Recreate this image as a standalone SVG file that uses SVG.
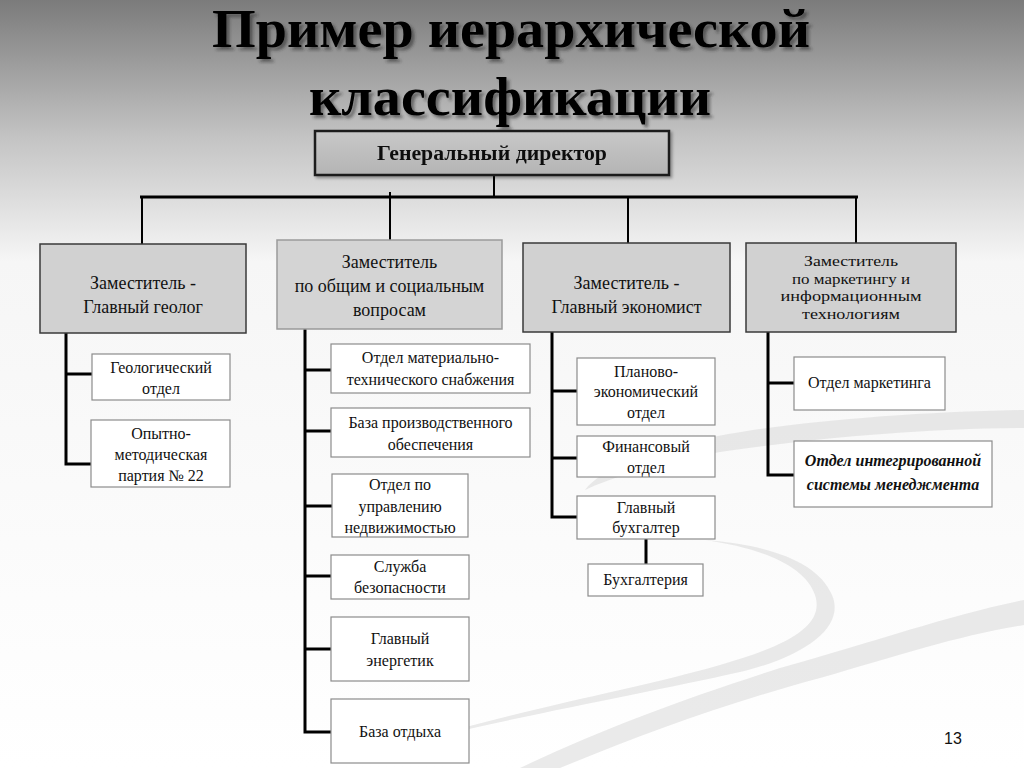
<svg xmlns="http://www.w3.org/2000/svg" width="1024" height="768" viewBox="0 0 1024 768">
<defs>
<linearGradient id="bg" x1="0" y1="0" x2="0" y2="768" gradientUnits="userSpaceOnUse">
<stop offset="0" stop-color="#7b7b7b"/>
<stop offset="0.18" stop-color="#c4c4c4"/>
<stop offset="0.34" stop-color="#f6f6f6"/>
<stop offset="1" stop-color="#ffffff"/>
</linearGradient>
<linearGradient id="dir" x1="0" y1="0" x2="0" y2="1">
<stop offset="0" stop-color="#c8c8c8"/>
<stop offset="1" stop-color="#b4b4b4"/>
</linearGradient>
<filter id="tsh" x="-5%" y="-20%" width="110%" height="150%">
<feDropShadow dx="3" dy="3" stdDeviation="1.5" flood-color="#2a2a2a" flood-opacity="0.55"/>
</filter>
<filter id="bsh" x="-5%" y="-10%" width="110%" height="130%">
<feDropShadow dx="2" dy="2" stdDeviation="1.5" flood-color="#000" flood-opacity="0.35"/>
</filter>
</defs>
<style>
.title{font-family:"Liberation Serif","Times New Roman",serif;font-weight:bold;font-size:54px;fill:#000;text-anchor:middle}
.t2{font-family:"Liberation Serif","Times New Roman",serif;font-size:18px;fill:#111;text-anchor:middle}
.t2s{font-family:"Liberation Serif","Times New Roman",serif;font-size:15px;fill:#111;text-anchor:middle}
.t3{font-family:"Liberation Serif","Times New Roman",serif;font-size:16px;fill:#111;text-anchor:middle}
.tbi{font-family:"Liberation Serif","Times New Roman",serif;font-size:16px;font-weight:bold;font-style:italic;fill:#111;text-anchor:middle}
.b2{fill:#d1d1d1;stroke:#3a3a3a;stroke-width:1.5}
.b2l{fill:#d4d4d4;stroke:#9a9a9a;stroke-width:1.5}
.b3{fill:#ffffff;stroke:#8c8c8c;stroke-width:1.2}
.ln{stroke:#000;stroke-width:3;fill:none}
.swirl{fill:#d9d9d9;opacity:0.55}
</style>
<rect width="1024" height="768" fill="url(#bg)"/>
<g id="decor">
<path class="swirl" d="M1024 410 C900 412 760 425 700 440 C640 455 600 470 585 490 C610 478 660 462 720 452 C800 440 920 428 1024 428 Z"/>
<path class="swirl" d="M705 540 C760 548 805 565 815 595 C825 625 790 645 720 665 C640 688 540 705 420 740 C540 712 650 692 740 672 C810 655 845 625 832 595 C818 562 770 545 705 540 Z"/>
<path class="swirl" d="M1024 600 C950 615 880 640 780 668 C680 700 600 730 520 768 L560 768 C640 735 720 705 820 678 C900 655 960 635 1024 625 Z"/>
</g>
<g id="title" filter="url(#tsh)">
<text class="title" x="511" y="47" textLength="598" lengthAdjust="spacingAndGlyphs">Пример иерархической</text>
<text class="title" x="510" y="115" textLength="402" lengthAdjust="spacingAndGlyphs">классификации</text>
</g>
<g id="connectors">
<line x1="494" y1="175" x2="494" y2="197" stroke="#000" stroke-width="2"/>
<line x1="140" y1="197" x2="858" y2="197" stroke="#000" stroke-width="3"/>
<line x1="390" y1="192" x2="390" y2="240" stroke="#000" stroke-width="2"/>
<line x1="142" y1="197" x2="142" y2="244" stroke="#000" stroke-width="2"/>
<line x1="628" y1="197" x2="628" y2="243" stroke="#000" stroke-width="2"/>
<line x1="856" y1="197" x2="856" y2="243" stroke="#000" stroke-width="2"/>
<path class="ln" d="M66 333 V464 H92 M66 374 H92"/>
<path class="ln" d="M305 329 V732 H331 M305 370 H331 M305 431 H331 M305 506 H332 M305 576 H331 M305 649 H331"/>
<path class="ln" d="M552 332 V517 H577 M552 391 H577 M552 458 H577"/>
<line x1="646" y1="539" x2="646" y2="564" stroke="#000" stroke-width="3"/>
<path class="ln" d="M768 332 V475 H794 M768 383 H794"/>
</g>
<g id="n-director" filter="url(#bsh)">
<rect x="315" y="131" width="354" height="44" fill="url(#dir)" stroke="#1e1e1e" stroke-width="2.5"/>
<text x="492" y="160" font-family="Liberation Serif, Times New Roman, serif" font-weight="bold" font-size="20" text-anchor="middle" fill="#111" textLength="230" lengthAdjust="spacingAndGlyphs">Генеральный директор</text>
</g>
<g id="n-geolog">
<rect class="b2" x="40" y="244" width="206" height="89"/>
<text class="t2" x="143" y="289">Заместитель -</text>
<text class="t2" x="143" y="313">Главный геолог</text>
</g>
<g id="n-social">
<rect class="b2l" x="277" y="240" width="225" height="89"/>
<text class="t2" x="389.5" y="268">Заместитель</text>
<text class="t2" x="389.5" y="292">по общим и социальным</text>
<text class="t2" x="389.5" y="316">вопросам</text>
</g>
<g id="n-economist">
<rect class="b2" x="523" y="243" width="207" height="89" stroke="#555"/>
<text class="t2" x="626.5" y="289">Заместитель -</text>
<text class="t2" x="626.5" y="313">Главный экономист</text>
</g>
<g id="n-marketing">
<rect class="b2" x="746" y="243" width="210" height="89" stroke="#555"/>
<text class="t2s" x="851" y="266" textLength="94" lengthAdjust="spacingAndGlyphs">Заместитель</text>
<text class="t2s" x="851" y="283.5" textLength="118" lengthAdjust="spacingAndGlyphs">по маркетингу и</text>
<text class="t2s" x="851" y="301" textLength="141" lengthAdjust="spacingAndGlyphs">информационным</text>
<text class="t2s" x="851" y="318.5" textLength="98" lengthAdjust="spacingAndGlyphs">технологиям</text>
</g>
<g id="n-geo-otdel">
<rect class="b3" x="92" y="354" width="138" height="46"/>
<text class="t3" x="161" y="373">Геологический</text>
<text class="t3" x="161" y="394">отдел</text>
</g>
<g id="n-partiya">
<rect class="b3" x="91" y="420" width="139" height="67"/>
<text class="t3" x="161" y="439">Опытно-</text>
<text class="t3" x="161" y="460">методическая</text>
<text class="t3" x="161" y="481">партия № 22</text>
</g>
<g id="n-mts">
<rect class="b3" x="331" y="344" width="199" height="49"/>
<text class="t3" x="430.5" y="363">Отдел материально-</text>
<text class="t3" x="430.5" y="385">технического снабжения</text>
</g>
<g id="n-baza-pr">
<rect class="b3" x="331" y="408" width="199" height="49"/>
<text class="t3" x="430.5" y="428">База производственного</text>
<text class="t3" x="430.5" y="450">обеспечения</text>
</g>
<g id="n-nedv">
<rect class="b3" x="332" y="474" width="136" height="63"/>
<text class="t3" x="400" y="490">Отдел по</text>
<text class="t3" x="400" y="512">управлению</text>
<text class="t3" x="400" y="533">недвижимостью</text>
</g>
<g id="n-security">
<rect class="b3" x="331" y="555" width="138" height="44"/>
<text class="t3" x="400" y="572">Служба</text>
<text class="t3" x="400" y="593">безопасности</text>
</g>
<g id="n-energetik">
<rect class="b3" x="331" y="617" width="138" height="64"/>
<text class="t3" x="400" y="644">Главный</text>
<text class="t3" x="400" y="666">энергетик</text>
</g>
<g id="n-otdyh">
<rect class="b3" x="331" y="699" width="138" height="64"/>
<text class="t3" x="400" y="737">База отдыха</text>
</g>
<g id="n-plan">
<rect class="b3" x="577" y="358" width="138" height="67"/>
<text class="t3" x="646" y="377">Планово-</text>
<text class="t3" x="646" y="397">экономический</text>
<text class="t3" x="646" y="418">отдел</text>
</g>
<g id="n-fin">
<rect class="b3" x="577" y="436" width="138" height="41"/>
<text class="t3" x="646" y="452">Финансовый</text>
<text class="t3" x="646" y="473">отдел</text>
</g>
<g id="n-glbuh">
<rect class="b3" x="577" y="496" width="138" height="43"/>
<text class="t3" x="646" y="513">Главный</text>
<text class="t3" x="646" y="533">бухгалтер</text>
</g>
<g id="n-buh">
<rect class="b3" x="588" y="564" width="115" height="32"/>
<text class="t3" x="645.5" y="585">Бухгалтерия</text>
</g>
<g id="n-mark-otdel">
<rect class="b3" x="794" y="357" width="151" height="53"/>
<text class="t3" x="869.5" y="388">Отдел маркетинга</text>
</g>
<g id="n-ism">
<rect class="b3" x="794" y="441" width="198" height="66"/>
<text class="tbi" x="893" y="466">Отдел интегрированной</text>
<text class="tbi" x="893" y="490">системы менеджмента</text>
</g>
<text x="953" y="744" font-family="Liberation Sans, Arial, sans-serif" font-size="16" text-anchor="middle" fill="#111">13</text>
</svg>
